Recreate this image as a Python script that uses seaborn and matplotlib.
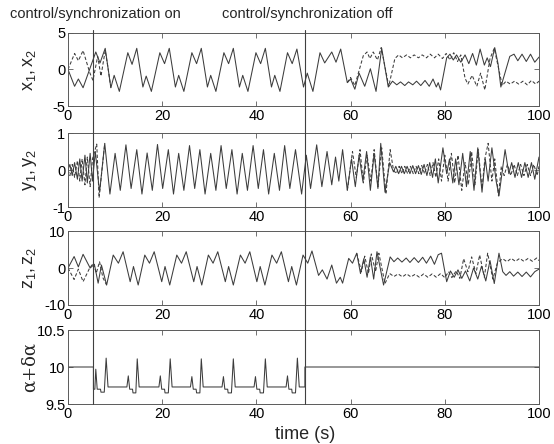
import numpy as np
import pandas as pd
import seaborn as sns
import matplotlib
matplotlib.use("Agg")
import matplotlib.pyplot as plt
from matplotlib.lines import Line2D
from matplotlib import transforms

# ---------------------------------------------------------------------------
# Drive / response states (turning points of each trace, time in s)
# ---------------------------------------------------------------------------
x1_t = [0, 1.4, 2.2, 3.2, 5.9, 6.8, 7.9,
        9.1, 9.8, 10.9, 12.7, 13.6, 14.6,
        15.9, 16.6, 17.7, 19.5, 20.5, 21.5,
        22.8, 23.5, 24.6, 26.3, 27.3, 28.3,
        29.6, 30.3, 31.4, 33.1, 34.1, 35.1,
        36.4, 37.1, 38.2, 39.9, 40.9, 41.9,
        43.2, 43.9, 45.0, 46.6, 47.6, 48.6,
        50.0, 50.8, 52.0, 53.5, 54.5, 56.0, 56.9, 57.9,
        59.3, 60.0, 60.9, 61.8, 63.0, 64.2, 65.4, 66.6, 68.0,
        68.9, 69.8, 70.6, 71.5, 72.3, 73.2, 74.0, 74.9, 75.8, 76.7, 77.5, 78.2, 78.6, 79.1,
        80.4, 81.1, 81.8, 82.5, 83.4, 84.3, 85.1, 85.9, 86.7, 87.5, 88.4, 89.0, 89.7, 90.6, 91.3, 91.9,
        93.8, 94.7, 95.5, 96.4, 97.3, 98.2, 99.1, 100]
x1_v = [0, -2.3, -1.3, -2.5, 2.4, 0.9, 2.9,
        -2.5, -0.8, -3.0, 2.3, 0.7, 2.9,
        -2.4, -0.9, -3.0, 2.3, 0.8, 2.9,
        -2.4, -0.8, -3.0, 2.3, 0.8, 2.9,
        -2.4, -0.8, -3.0, 2.3, 0.8, 2.9,
        -2.4, -0.8, -3.0, 2.3, 0.8, 2.9,
        -2.4, -0.8, -3.0, 2.3, 0.8, 2.8,
        -2.4, -0.5, -3.0, 2.3, 0.9, 2.4, 1.0, 2.8,
        -1.8, -1.3, -2.7, -0.5, -2.3, 0.1, -3.0, 2.9, -2.4,
        -1.6, -2.1, -1.7, -2.2, -1.7, -2.1, -1.6, -2.2, -1.5, -2.3, -1.3, -2.4, -1.8, -2.8,
        1.6, 2.1, 1.3, 2.0, 1.0, 2.0, 0.8, 2.2, 0.6, 2.8, 0.6, 1.6, 0.4, 3.0, 0.8, -2.4,
        1.8, 2.1, 1.2, 2.1, 1.1, 2.1, 1.0, 1.7]

x2_pre_t = [0, 1.4, 2.2, 3.2, 4.6, 5.3, 6.3, 7.0, 7.9, 8.5, 9.1]
x2_pre_v = [0, 2.2, 1.2, 2.6, -0.4, -1.5, 1.8, -0.9, 2.6, 0.2, -2.5]
x2_post_t = [59.3, 60.0, 60.9, 62.7, 63.5, 64.1, 64.8, 65.7, 66.5, 68.1,
             69.4, 70.2, 71.0, 71.9, 72.7, 73.5, 74.4, 75.2, 76.1, 76.9, 77.8, 78.6,
             79.5, 80.3, 81.1, 81.9, 82.7, 83.4,
             84.3, 84.9, 85.8, 86.8, 87.6, 88.5, 89.6, 90.5, 92.2,
             93.0, 93.9, 94.8, 95.7, 96.6, 97.5, 98.4, 99.3, 100]
x2_post_v = [-1.8, -1.1, -2.2, 1.9, 2.4, 1.5, 2.4, 1.3, 3.0, -2.3,
             1.5, 2.0, 1.6, 2.0, 1.6, 2.0, 1.6, 2.0, 1.6, 2.1, 1.6, 2.1,
             1.5, 2.2, 1.3, 2.3, 1.1, 2.0,
             -1.2, -2.0, -0.8, -2.3, -0.5, -2.8, 1.5, 2.9, -2.2,
             -1.6, -2.0, -1.6, -2.0, -1.6, -2.1, -1.5, -2.0, -1.6]

y1_t = [0, 0.4, 0.9, 1.4, 2.0, 2.5, 3.0, 3.6, 4.1, 4.7, 5.2, 5.8, 6.7,
        7.8, 8.9, 10.0, 11.1, 12.3, 13.4, 14.6, 15.7, 16.8, 17.9,
        19.0, 20.1, 21.3, 22.4, 23.5, 24.6, 25.8, 26.9, 28.0, 29.1,
        30.3, 31.4, 32.5, 33.6, 34.8, 35.9, 37.0, 38.1, 39.3, 40.4,
        41.5, 42.6, 43.8, 44.9, 46.0, 47.1, 48.3, 49.6, 50.6, 51.5,
        52.8, 53.9, 55.0, 56.0, 56.8, 57.5, 58.3, 59.3, 60.2, 61.0,
        61.8, 62.6, 63.4, 64.2, 65.0, 65.8, 66.4, 67.3, 68.3, 69.1,
        69.6, 70.2, 70.8, 71.4, 72.0, 72.6, 73.2, 73.8, 74.4, 75.0,
        75.6, 76.2, 76.8, 77.4, 78.0, 78.6, 79.6, 80.4, 81.0, 81.7,
        82.3, 83.0, 83.8, 84.6, 85.4, 86.2, 87.0, 87.9, 88.6, 89.2,
        90.0, 90.9, 91.5, 92.8, 93.6, 94.2, 94.9, 95.6, 96.3, 97.0,
        97.7, 98.4, 99.1, 100]
y1_v = [0, 0.15, -0.15, 0.2, -0.25, 0.3, -0.3, 0.4, -0.35, 0.45, -0.3, 0.5, -0.6,
        0.72, -0.65, 0.45, -0.55, 0.68, -0.5, 0.55, -0.65, 0.46, -0.55,
        0.69, -0.5, 0.55, -0.65, 0.45, -0.55, 0.66, -0.5, 0.55, -0.65,
        0.45, -0.55, 0.66, -0.5, 0.55, -0.65, 0.45, -0.55, 0.66, -0.5,
        0.55, -0.65, 0.45, -0.55, 0.66, -0.5, 0.55, -0.65, 0.4, -0.5,
        0.68, -0.45, 0.5, -0.4, 0.35, -0.3, 0.55, -0.55, 0.3, -0.45,
        0.4, -0.3, 0.5, -0.55, 0.45, -0.5, 0.72, -0.6, 0.2, -0.05,
        0.1, -0.1, 0.1, -0.1, 0.1, -0.1, 0.12, -0.1, 0.12, -0.12,
        0.15, -0.15, 0.2, -0.2, 0.3, -0.35, 0.6, -0.1, 0.3, -0.35,
        0.3, -0.4, 0.45, -0.45, 0.5, -0.55, 0.6, -0.6, 0.3, -0.3,
        0.6, -0.3, -0.7, 0.55, -0.1, 0.2, -0.2, 0.2, -0.2, 0.2,
        -0.2, 0.2, -0.25, 0.35]

y2_pre_t = [0, 0.4, 0.9, 1.4, 2.0, 2.5, 3.0, 3.6, 4.1, 4.7, 5.2, 6.1, 6.6, 7.8]
y2_pre_v = [0, -0.15, 0.15, -0.2, 0.25, -0.3, 0.3, -0.4, 0.35, -0.45, 0.3, 0.7, -0.75, 0.72]
y2_post_t = [59.3, 60.4, 61.2, 62.0, 62.7, 63.5, 64.3, 65.0, 65.8, 66.6, 67.5, 68.4, 69.1,
             69.7, 70.3, 70.9, 71.5, 72.1, 72.7, 73.3, 73.9, 74.5, 75.1, 75.7, 76.3,
             76.9, 77.5, 78.1, 78.7, 79.3, 80.0, 80.7, 81.4, 82.1, 82.8, 83.6, 84.3,
             85.0, 85.7, 86.4, 87.1, 87.9, 88.5, 89.2, 90.0, 90.6, 91.4, 92.0, 92.6,
             93.3, 94.0, 94.7, 95.4, 96.1, 96.8, 97.5, 98.2, 98.9, 99.6, 100]
y2_post_v = [-0.55, 0.5, -0.2, 0.55, -0.35, 0.4, -0.3, 0.55, -0.45, 0.6, -0.65, 0.55, 0.0,
             -0.1, 0.1, -0.1, 0.1, -0.1, 0.1, -0.1, 0.1, -0.1, 0.12, -0.1, 0.15,
             -0.15, 0.2, -0.2, 0.3, -0.3, 0.4, -0.3, 0.45, -0.35, 0.4, -0.55, 0.2,
             -0.4, 0.5, -0.4, 0.55, -0.5, 0.3, 0.72, -0.3, 0.3, -0.7, 0.1, -0.15,
             0.15, -0.15, 0.15, -0.15, 0.15, -0.15, 0.15, -0.15, 0.15, -0.15, 0.1]

z1_t = [0, 1.3, 2.2, 3.2, 4.7, 5.6, 6.4, 7.1, 8.2,
        9.6, 10.7, 11.7, 13.2, 13.9, 14.9,
        16.3, 17.3, 18.3, 19.9, 20.6, 21.6,
        23.1, 24.1, 25.1, 26.7, 27.4, 28.4,
        29.8, 30.8, 31.8, 33.4, 34.1, 35.1,
        36.6, 37.6, 38.6, 40.1, 40.8, 41.8,
        43.3, 44.3, 45.3, 46.8, 47.5, 48.5,
        49.9, 50.9, 51.8, 53.2, 54.0, 55.0, 56.0, 57.0, 57.8, 58.3,
        59.6, 60.4, 61.3, 62.1, 62.8, 63.5, 64.2, 64.9, 65.6, 67.0,
        68.4, 69.2, 70.0, 70.9, 71.8, 72.6, 73.5, 74.4, 75.3, 76.1, 77.0, 77.8, 78.6, 79.3,
        80.4, 81.2, 82.0, 82.8, 83.6, 84.4, 85.3, 86.1, 87.0, 87.8, 88.7, 89.6, 90.5, 91.5,
        92.3, 93.0, 93.8, 94.6, 95.5, 96.4, 97.3, 98.2, 99.1, 100]
z1_v = [0, 3.1, 0.3, 3.7, 0.0, 1.0, -4.1, 0.8, -4.6,
        3.5, 1.3, 4.4, -3.7, 0.4, -4.6,
        3.5, 1.3, 4.4, -3.7, 0.4, -4.6,
        3.5, 1.3, 4.4, -3.7, 0.4, -4.6,
        3.5, 1.3, 4.4, -3.7, 0.4, -4.6,
        3.5, 1.3, 4.4, -3.7, 0.4, -4.6,
        3.5, 1.3, 4.4, -3.7, 0.4, -4.6,
        3.5, 1.3, 4.6, -2.0, -0.5, -3.0, 0.8, -4.1, -2.5, -4.1,
        2.6, 1.3, 4.0, -1.5, 2.5, -2.5, 3.0, -3.0, 4.4, -4.6,
        3.0, 1.7, 2.7, 1.6, 2.7, 1.5, 2.8, 1.5, 2.9, 1.3, 3.2, 1.0, 3.6, 4.0,
        -3.7, -0.8, -2.5, -0.5, -2.8, -0.8, -3.5, 0.0, -3.0, 0.5, -3.5, 2.0, -4.2, 4.0,
        -1.0, -2.0, -1.0, -2.2, -1.1, -2.3, -1.1, -2.4, -1.0, -0.3]

z2_pre_t = [0, 1.3, 2.2, 3.2, 4.6, 5.4, 6.0, 6.7, 7.4, 8.2]
z2_pre_v = [0, -3.1, -0.3, -3.7, 0.0, 1.3, -1.4, 1.7, -2.6, -4.6]
z2_post_t = [61.3, 62.3, 63.0, 63.8, 64.4, 65.3, 66.0, 67.3,
             68.3, 69.2, 70.1, 71.0, 71.9, 72.8, 73.7, 74.6, 75.5, 76.4, 77.3, 78.2, 79.1,
             80.0, 80.8, 81.5, 82.4, 83.2, 84.0, 84.9, 85.7, 86.6, 87.4, 88.4, 89.1, 90.2,
             91.2, 92.3, 93.2, 94.1, 95.0, 95.9, 96.8, 97.7, 98.6, 99.5, 100]
z2_post_v = [4.0, -1.0, 3.2, -1.5, 3.8, -1.0, 4.0, -4.2,
             -1.5, -2.3, -1.6, -2.4, -1.6, -2.4, -1.7, -2.5, -1.6, -2.5, -1.6, -2.5, -1.5,
             -2.6, -1.0, -2.6, -0.8, -2.8, 2.5, -1.0, 3.0, -1.5, 3.5, -2.5, 4.0, -3.0,
             1.5, 2.5, 1.7, 2.6, 1.8, 2.6, 1.8, 2.6, 1.8, 2.7, 2.0]

# Controlled parameter alpha + delta alpha
alpha_t = [0, 5.4, 5.4, 5.7, 5.9, 6.2, 6.9, 7.0, 7.7, 8.1, 8.5,
           12.5, 12.8, 13.1, 13.7, 13.8, 14.4, 14.7, 15.1,
           19.3, 19.6, 19.9, 20.5, 20.6, 21.3, 21.7, 22.1,
           26.0, 26.3, 26.6, 27.2, 27.3, 28.0, 28.3, 28.7,
           32.7, 33.0, 33.3, 33.9, 34.0, 34.7, 35.1, 35.5,
           39.5, 39.8, 40.1, 40.7, 40.8, 41.5, 41.9, 42.3,
           46.3, 46.6, 46.9, 47.5, 47.6, 48.3, 48.7, 49.1,
           50.3, 50.3, 100]
alpha_v = [10.0, 10.0, 9.70, 9.70, 9.97, 9.70, 9.70, 9.66, 9.66, 10.12, 9.73,
           9.73, 9.88, 9.70, 9.70, 9.65, 9.65, 10.11, 9.73,
           9.73, 9.88, 9.70, 9.70, 9.65, 9.65, 10.11, 9.73,
           9.73, 9.87, 9.70, 9.70, 9.65, 9.65, 10.11, 9.73,
           9.73, 9.87, 9.70, 9.70, 9.65, 9.65, 10.11, 9.73,
           9.73, 9.87, 9.70, 9.70, 9.65, 9.65, 10.11, 9.73,
           9.73, 9.88, 9.70, 9.70, 9.65, 9.65, 10.12, 9.73,
           9.73, 10.0, 10.0]

t_on = 5.4     # control switched on
t_off = 50.3   # control switched off

panel_ylabels = [r"$\mathregular{x_1, x_2}$", r"$\mathregular{y_1, y_2}$",
                 r"$\mathregular{z_1, z_2}$", "α+δα"]
panel_ylims = [(-5, 5), (-1, 1), (-10, 10), (9.5, 10.5)]
panel_yticks = [[-5, 0, 5], [-1, 0, 1], [-10, 0, 10], [9.5, 10, 10.5]]
panel_yticklabels = [["-5", "0", "5"], ["-1", "0", "1"], ["-10", "0", "10"],
                     ["9.5", "10", "10.5"]]
x_ticks = [0, 20, 40, 60, 80, 100]

# ---------------------------------------------------------------------------
sns.set_style("ticks")
plt.rcParams["font.family"] = ["Liberation Sans", "DejaVu Sans"]
plt.rcParams["mathtext.fontset"] = "custom"
plt.rcParams["mathtext.rm"] = "Liberation Sans"
plt.rcParams["mathtext.it"] = "Liberation Sans:italic"

W, H = 554, 444
fig = plt.figure(figsize=(W / 100, H / 100), dpi=100)

ax_left, ax_right = 68, 539
panel_px = [(33, 106), (133, 207), (231, 305), (330, 404)]
axes = []
for top, bot in panel_px:
    ax = fig.add_axes([ax_left / W, 1 - bot / H, (ax_right - ax_left) / W, (bot - top) / H])
    axes.append(ax)

line_col = "#3c3c3c"
frame_col = "#5a5a5a"
lw = 0.75
dash = (0, (3.2, 2.0))


def trace(ax, t, v, dashed=False):
    df = pd.DataFrame({"t": t, "v": v})
    sns.lineplot(data=df, x="t", y="v", ax=ax, color=line_col, lw=lw,
                 estimator=None, sort=False, linestyle=dash if dashed else "-")


trace(axes[0], x1_t, x1_v)
trace(axes[0], x2_pre_t, x2_pre_v, dashed=True)
trace(axes[0], x2_post_t, x2_post_v, dashed=True)

trace(axes[1], y1_t, y1_v)
trace(axes[1], y2_pre_t, y2_pre_v, dashed=True)
trace(axes[1], y2_post_t, y2_post_v, dashed=True)

trace(axes[2], z1_t, z1_v)
trace(axes[2], z2_pre_t, z2_pre_v, dashed=True)
trace(axes[2], z2_post_t, z2_post_v, dashed=True)

trace(axes[3], alpha_t, alpha_v)

for i, ax in enumerate(axes):
    ax.set_xlim(0, 100)
    ax.set_ylim(*panel_ylims[i])
    ax.set_xticks(x_ticks)
    ax.set_xticklabels([str(v) for v in x_ticks])
    ax.set_yticks(panel_yticks[i])
    ax.set_yticklabels(panel_yticklabels[i])
    ax.set_xlabel("")
    ax.set_ylabel("")
    ax.tick_params(direction="in", length=3.5, width=0.6, color=frame_col,
                   top=True, right=True, labelsize=10.5, pad=2, labelcolor="black")
    for s in ax.spines.values():
        s.set_visible(True)
        s.set_color(frame_col)
        s.set_linewidth(0.7)
    top, bot = panel_px[i]
    fam = ["DejaVu Serif"] if i == 3 else ["Liberation Sans", "DejaVu Sans"]
    fig.text(30 / W, 1 - (top + bot) / 2 / H, panel_ylabels[i], rotation=90,
             ha="center", va="center", fontsize=13, family=fam)

# switching instants, drawn through all panels
blend = transforms.blended_transform_factory(axes[0].transData, fig.transFigure)
for tv in (t_on, t_off):
    fig.add_artist(Line2D([tv, tv], [1 - 30 / H, 1 - 404 / H], transform=blend,
                          color="#404040", lw=0.8))

fig.text(10 / W, 1 - 14 / H, "control/synchronization on", ha="left", va="center",
         fontsize=10.5)
fig.text(222 / W, 1 - 14 / H, "control/synchronization off", ha="left", va="center",
         fontsize=10.5)
fig.text(305 / W, 1 - 434 / H, "time (s)", ha="center", va="center", fontsize=13)

fig.savefig("out.png", dpi=100, facecolor="white")
